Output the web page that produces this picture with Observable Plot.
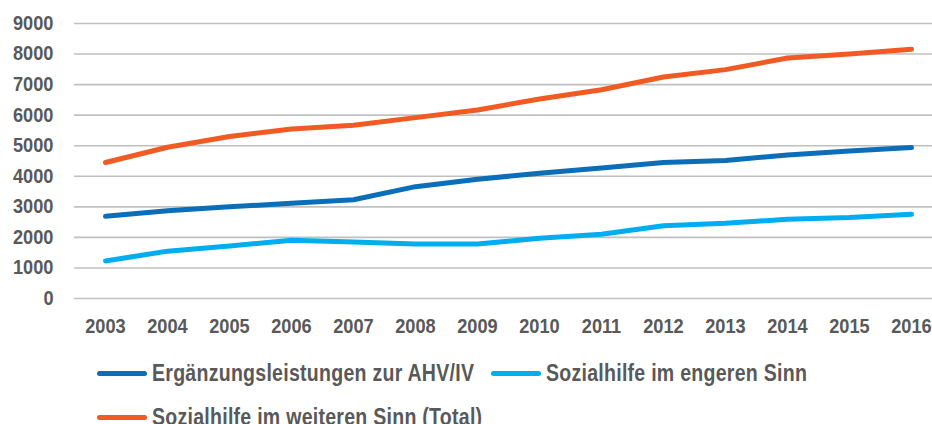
<!DOCTYPE html>
<html>
<head>
<meta charset="utf-8">
<script src="https://cdn.jsdelivr.net/npm/d3@7"></script>
<script src="https://cdn.jsdelivr.net/npm/@observablehq/plot@0.6"></script>
<style>
  html, body { margin: 0; padding: 0; background: #fff; overflow: hidden; }
  body { width: 932px; height: 424px; font-family: "Liberation Sans", Arial, sans-serif; font-weight: bold; color: #595959; }
  #chart svg { display: block; }
  #legend { padding-left: 97px; margin-top: 11px; font-size: 23px; }
  .row { display: flex; align-items: center; height: 44px; white-space: nowrap; }
  .item { display: flex; align-items: center; margin-right: 17px; }
  .sw { width: 50px; height: 5px; border-radius: 3px; margin-right: 5px; flex: none; }
  .tw { display: inline-block; overflow: visible; }
  .tw span { display: inline-block; transform-origin: 0 50%; letter-spacing: 0.3px; }
</style>
</head>
<body>
<div id="chart"></div>
<div id="legend"></div>
<script>
const years = [2003,2004,2005,2006,2007,2008,2009,2010,2011,2012,2013,2014,2015,2016];
const seriesNames = ["Ergänzungsleistungen zur AHV/IV", "Sozialhilfe im engeren Sinn", "Sozialhilfe im weiteren Sinn (Total)"];
const seriesColors = ["#0A6EB8", "#00AEEF", "#F15A22"];
const ergaenzung = [2690,2870,3000,3120,3230,3660,3900,4100,4270,4450,4520,4700,4830,4940];
const engeren    = [1230,1550,1720,1910,1850,1780,1780,1970,2100,2380,2460,2590,2650,2755];
const weiteren   = [4450,4950,5300,5550,5670,5920,6170,6530,6830,7250,7490,7870,8000,8155];
const yTicks = [0,1000,2000,3000,4000,5000,6000,7000,8000,9000];

const values = [ergaenzung, engeren, weiteren];
const data = [];
seriesNames.forEach((s, i) => years.forEach((y, j) => data.push({series: s, year: y, value: values[i][j]})));

const font = '"Liberation Sans", Arial, sans-serif';

const chart = Plot.plot({
  width: 932,
  height: 340,
  marginTop: 23,
  marginBottom: 42,
  marginLeft: 74,
  marginRight: -10,
  style: {fontFamily: font, fontWeight: "bold", color: "#595959", fontSize: "20px", background: "transparent"},
  x: {type: "point", domain: years, padding: 0.5},
  y: {domain: [0, 9000]},
  color: {domain: seriesNames, range: seriesColors},
  marks: [
    Plot.ruleY(yTicks, {stroke: "#C0C0C0", strokeWidth: 1.6}),
    Plot.axisY({ticks: yTicks, tickSize: 0, tickPadding: 21, tickFormat: d => String(d), label: null, fontSize: 20, fill: "#595959"}),
    Plot.axisX({tickSize: 0, tickPadding: 20, tickFormat: d => String(d), label: null, fontSize: 20, fill: "#595959"}),
    Plot.line(data, {x: "year", y: "value", z: "series", stroke: "series", strokeWidth: 5, strokeLinecap: "round", strokeLinejoin: "round"})
  ]
});
document.getElementById("chart").appendChild(chart);

// condense the tick labels to mimic the narrow typeface of the original
chart.querySelectorAll("text").forEach(t => {
  const L = t.getComputedTextLength();
  if (L > 0) {
    t.setAttribute("textLength", (L * 0.91).toFixed(1));
    t.setAttribute("lengthAdjust", "spacingAndGlyphs");
  }
});

const legend = document.getElementById("legend");
const rows = [[0, 1], [2]];
const k = 0.85;
rows.forEach(r => {
  const row = document.createElement("div");
  row.className = "row";
  legend.appendChild(row);
  r.forEach(i => {
    const it = document.createElement("div");
    it.className = "item";
    const sw = document.createElement("div");
    sw.className = "sw";
    sw.style.background = seriesColors[i];
    const tw = document.createElement("div");
    tw.className = "tw";
    const t = document.createElement("span");
    t.textContent = seriesNames[i];
    tw.appendChild(t);
    it.appendChild(sw);
    it.appendChild(tw);
    row.appendChild(it);
    const w = t.getBoundingClientRect().width;
    t.style.transform = `scaleX(${k})`;
    tw.style.width = (w * k).toFixed(1) + "px";
  });
});
</script>
</body>
</html>
